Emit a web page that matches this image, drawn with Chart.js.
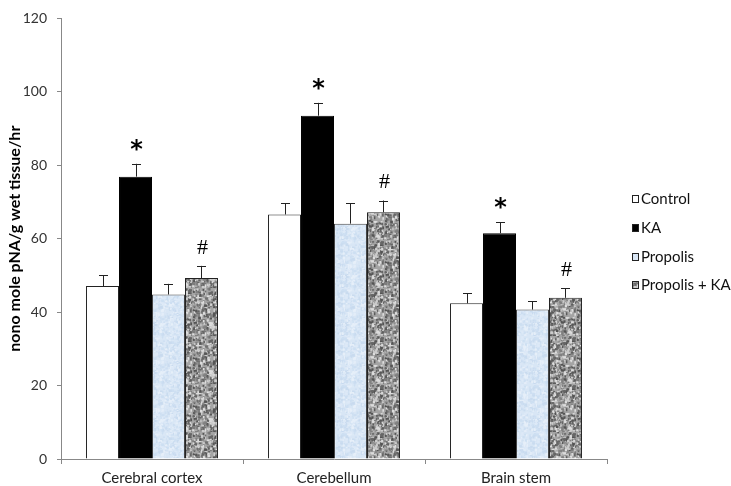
<!DOCTYPE html>
<html>
<head>
<meta charset="utf-8">
<script src="https://cdn.jsdelivr.net/npm/chart.js@4"></script>
<style>
  html, body { margin: 0; padding: 0; background: #fff; }
  #wrap { width: 731px; height: 486px; }
</style>
</head>
<body>
<div id="wrap"><canvas id="chart"></canvas></div>
<script>
// datos
const regions = ["Cerebral cortex", "Cerebellum", "Brain stem"];
const seriesNames = ["Control", "KA", "Propolis", "Propolis + KA"];
const control = [47.1, 66.6, 42.4];
const ka = [76.9, 93.5, 61.5];
const propolis = [44.8, 64.1, 40.7];
const propolisKa = [49.3, 67.2, 43.9];
const controlErr = [2.9, 3.0, 2.8];
const kaErr = [3.5, 3.5, 3.0];
const propolisErr = [2.9, 5.5, 2.2];
const propolisKaErr = [3.3, 3.2, 2.6];
const marks = ["", "*", "", "#"];
const yTicks = [0, 20, 40, 60, 80, 100, 120];

const FONT = "Lato, 'Open Sans', sans-serif";

// textura (semilla fija, solo para el relleno)
function makeTexture(base, spots, seed) {
    let c = document.createElement("canvas");
    c.width = 48; c.height = 48;
    let g = c.getContext("2d");
    g.fillStyle = base;
    g.fillRect(0, 0, 48, 48);
    let s = seed;
    function rnd() { s = (s * 1103515245 + 12345) % 2147483648; return s / 2147483648; }
    for (let i = 0; i < 700; i++) {
        let x = rnd() * 48, y = rnd() * 48;
        g.fillStyle = spots[Math.floor(rnd() * spots.length)];
        g.fillRect(x, y, 1 + rnd() * 2, 1 + rnd() * 2);
    }
    return g.createPattern(c, "repeat");
}

const blueTex = makeTexture("#d8e6f5", ["#cddff2", "#e6eff9", "#c9dbef", "#dde9f7"], 7);
const greyTex = makeTexture("#a4a4a4", ["#666666", "#808080", "#cccccc", "#dddddd", "#555555"], 13);

// barras de error y marcas
const errorBars = {
    id: "errorBars",
    afterDatasetsDraw(chart) {
        const ctx = chart.ctx;
        const y = chart.scales.y;
        chart.data.datasets.forEach((ds, di) => {
            const meta = chart.getDatasetMeta(di);
            meta.data.forEach((bar, i) => {
                const top = y.getPixelForValue(ds.data[i] + ds.err[i]);
                ctx.save();
                ctx.strokeStyle = "#222";
                ctx.lineWidth = 1;
                ctx.beginPath();
                ctx.moveTo(Math.round(bar.x) + 0.5, bar.y);
                ctx.lineTo(Math.round(bar.x) + 0.5, top);
                ctx.moveTo(Math.round(bar.x) - 4, Math.round(top) + 0.5);
                ctx.lineTo(Math.round(bar.x) + 5, Math.round(top) + 0.5);
                ctx.stroke();
                if (ds.mark) {
                    ctx.fillStyle = "#000";
                    ctx.textAlign = "center";
                    ctx.textBaseline = "middle";
                    ctx.font = ds.mark === "*" ? "bold 24px 'DejaVu Sans', sans-serif" : "22px 'Liberation Serif', serif";
                    ctx.fillText(ds.mark, bar.x + 1, top - (ds.mark === "*" ? 13 : 18));
                }
                ctx.restore();
            });
        });
    }
};

// leyenda a la derecha
const sideLegend = {
    id: "sideLegend",
    afterDraw(chart) {
        const ctx = chart.ctx;
        const rows = [199, 228, 257, 285];
        chart.data.datasets.forEach((ds, i) => {
            ctx.save();
            ctx.fillStyle = ds.backgroundColor;
            ctx.fillRect(632, rows[i] - 4, 7, 8);
            ctx.strokeStyle = "#222";
            ctx.lineWidth = 1;
            ctx.strokeRect(632.5, rows[i] - 3.5, 6, 7);
            ctx.fillStyle = "#111";
            ctx.font = "15px " + FONT;
            ctx.textAlign = "left";
            ctx.textBaseline = "middle";
            ctx.fillText(ds.label, 641, rows[i]);
            ctx.restore();
        });
    }
};

function makeSet(label, data, err, fill, border, mark) {
    return {
        label: label, data: data, err: err, mark: mark,
        backgroundColor: fill, borderColor: border, borderWidth: 1,
        categoryPercentage: 0.725, barPercentage: 1.0
    };
}

new Chart(document.getElementById("chart"), {
    type: "bar",
    data: {
        labels: regions,
        datasets: [
            makeSet(seriesNames[0], control, controlErr, "#ffffff", "#222", marks[0]),
            makeSet(seriesNames[1], ka, kaErr, "#000000", "#000", marks[1]),
            makeSet(seriesNames[2], propolis, propolisErr, blueTex, "#444", marks[2]),
            makeSet(seriesNames[3], propolisKa, propolisKaErr, greyTex, "#222", marks[3])
        ]
    },
    options: {
        responsive: true,
        maintainAspectRatio: false,
        animation: false,
        layout: { padding: { top: 7, right: 124, left: 2, bottom: 0 } },
        plugins: {
            legend: { display: false },
            tooltip: { enabled: false }
        },
        scales: {
            x: {
                grid: { display: true, drawOnChartArea: false, offset: true, tickLength: 5, color: "#888" },
                border: { color: "#888" },
                ticks: { color: "#222", font: { family: FONT, size: 15 }, padding: 5 },
                afterFit: s => { s.height = 27; }
            },
            y: {
                min: 0, max: 120,
                afterBuildTicks: s => { s.ticks = yTicks.map(v => ({ value: v })); },
                grid: { display: true, drawOnChartArea: false, tickLength: 4, color: "#888" },
                border: { color: "#888" },
                ticks: { color: "#333", font: { family: FONT, size: 14 }, padding: 10 },
                title: {
                    display: true,
                    text: "nono mole pNA/g wet tissue/hr",
                    color: "#000",
                    font: { family: FONT, size: 16, weight: "bold" },
                    padding: { top: 3, bottom: 0 }
                },
                afterFit: s => { s.width = 59; }
            }
        }
    },
    plugins: [errorBars, sideLegend]
});
</script>
</body>
</html>
